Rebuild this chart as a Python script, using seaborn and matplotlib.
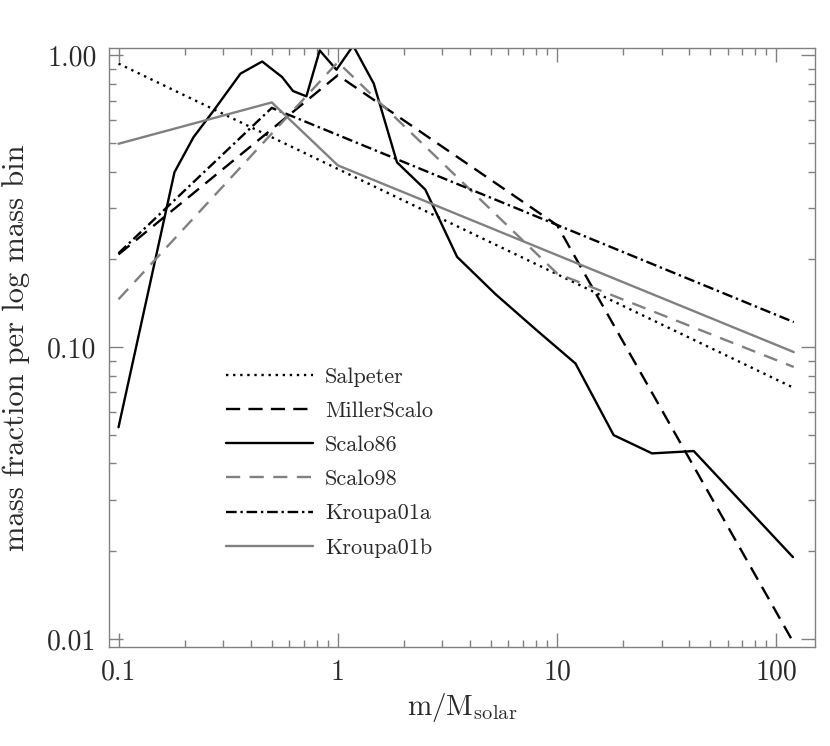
import numpy as np
import pandas as pd
import matplotlib
matplotlib.use("Agg")
import matplotlib.pyplot as plt
import matplotlib.ticker as mticker
import seaborn as sns

# values: mass (m/Msolar) and mass fraction per log mass bin
salpeter_m = [0.1, 120]
salpeter_f = [0.937, 0.0726]

millerscalo_m = [0.1, 1.0, 10.0, 120]
millerscalo_f = [0.208, 0.855, 0.262, 0.0097]

scalo86_m = [0.1, 0.180, 0.220, 0.272, 0.360, 0.452, 0.557, 0.625, 0.719, 0.827,
             0.986, 1.175, 1.459, 1.862, 2.506, 3.50, 5.24, 8.11, 12.13, 18.11,
             27.1, 42.0, 119]
scalo86_f = [0.0532, 0.398, 0.525, 0.648, 0.866, 0.953, 0.843, 0.755, 0.724, 1.04,
             0.893, 1.08, 0.800, 0.430, 0.347, 0.204, 0.152, 0.114, 0.088, 0.050,
             0.0433, 0.0441, 0.0191]

scalo98_m = [0.1, 1.0, 10.0, 120]
scalo98_f = [0.146, 0.948, 0.179, 0.0856]

kroupa01a_m = [0.1, 0.5, 120]
kroupa01a_f = [0.21, 0.661, 0.122]

kroupa01b_m = [0.1, 0.5, 1.0, 120]
kroupa01b_f = [0.498, 0.69, 0.42, 0.0963]

sns.set_style("ticks")
plt.rcParams["font.family"] = ["cmr10", "DejaVu Serif"]
plt.rcParams["mathtext.fontset"] = "cm"
plt.rcParams["axes.formatter.use_mathtext"] = True

grey = "#808080"
text_col = "#2a2a2a"
lw = 1.7

fig = plt.figure(figsize=(8.3, 7.46), dpi=100)
ax = fig.add_axes([109/830, 1-647/746, (815-109)/830, (647-48)/746])

series = [
    ("Salpeter", salpeter_m, salpeter_f, "black", (0, (1, 2))),
    ("MillerScalo", millerscalo_m, millerscalo_f, "black", (0, (6, 3.5))),
    ("Scalo86", scalo86_m, scalo86_f, "black", "-"),
    ("Scalo98", scalo98_m, scalo98_f, grey, (0, (6, 4))),
    ("Kroupa01a", kroupa01a_m, kroupa01a_f, "black", (0, (4.5, 1.6, 1, 1.6))),
    ("Kroupa01b", kroupa01b_m, kroupa01b_f, grey, "-"),
]

for name, m, f, col, ls in series:
    sns.lineplot(x=m, y=f, ax=ax, color=col, linestyle=ls, linewidth=lw,
                 label=name, sort=False)

ax.set_xscale("log")
ax.set_yscale("log")
ax.set_xlim(0.0905, 150)
ax.set_ylim(0.0094, 1.06)

ax.xaxis.set_major_locator(mticker.FixedLocator([0.1, 1, 10, 100]))
ax.xaxis.set_major_formatter(mticker.FixedFormatter(["0.1", "1", "10", "100"]))
ax.xaxis.set_minor_locator(mticker.LogLocator(base=10, subs=np.arange(2, 10)))
ax.xaxis.set_minor_formatter(mticker.NullFormatter())
ax.yaxis.set_major_locator(mticker.FixedLocator([0.01, 0.1, 1.0]))
ax.yaxis.set_major_formatter(mticker.FixedFormatter(["0.01", "0.10", "1.00"]))
ax.yaxis.set_minor_locator(mticker.LogLocator(base=10, subs=np.arange(2, 10)))
ax.yaxis.set_minor_formatter(mticker.NullFormatter())

ax.tick_params(which="both", direction="in", top=True, right=True, color=grey,
               width=1.0)
ax.tick_params(which="major", length=10, labelsize=20, labelcolor=text_col, pad=9)
ax.tick_params(which="minor", length=5)
for sp in ax.spines.values():
    sp.set_color(grey)
    sp.set_linewidth(1.0)

ax.set_xlabel(r"m/M$_{\mathrm{solar}}$", fontsize=21, color=text_col, labelpad=4)
ax.set_ylabel("mass fraction per log mass bin", fontsize=22, color=text_col,
              labelpad=12)

ax.legend(loc="upper left", bbox_to_anchor=(226/830, 1-367/746),
          bbox_transform=fig.transFigure, frameon=False, fontsize=16,
          handlelength=3.9, handletextpad=0.55, labelspacing=0.66,
          borderpad=0, borderaxespad=0, labelcolor=text_col)

fig.savefig("out.png", dpi=100)
